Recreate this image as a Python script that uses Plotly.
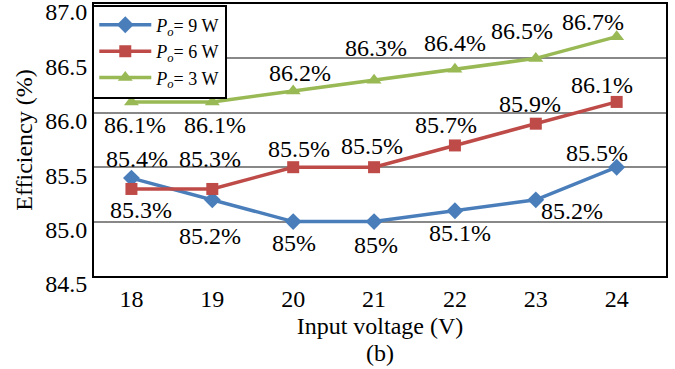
import plotly.graph_objects as go

voltage = [18, 19, 20, 21, 22, 23, 24]
eff_9w = [85.4, 85.2, 85.0, 85.0, 85.1, 85.2, 85.5]
eff_6w = [85.3, 85.3, 85.5, 85.5, 85.7, 85.9, 86.1]
eff_3w = [86.1, 86.1, 86.2, 86.3, 86.4, 86.5, 86.7]
series_names = ["<i>P<sub>o</sub></i>= 9 W", "<i>P<sub>o</sub></i>= 6 W", "<i>P<sub>o</sub></i>= 3 W"]
y_ticks = [84.5, 85.0, 85.5, 86.0, 86.5, 87.0]

# label offsets in pixels (xshift, yshift) for each point's data label
off_9w = [(6, 19), (-2, -36), (1, -21), (2, -23), (5, -22), (36, -11), (-20, 14)]
off_6w = [(10, -21), (-2, 30), (6, 18), (-2, 21), (-9, 20), (-6, 20), (-15, 17)]
off_3w = [(4, -23), (3, -23), (7, 18), (2, 32), (0, 26), (-14, 27), (-24, 15)]

FONT = "Liberation Serif"
FS = 24
colors = ["#4A7EBB", "#BE4B48", "#98B954"]
symbols = ["diamond", "square", "triangle-up"]
msizes = [13, 12, 13]

fig = go.Figure()
annotations = []
for vals, name, col, sym, ms, offs in zip(
    [eff_9w, eff_6w, eff_3w], series_names, colors, symbols, msizes,
    [off_9w, off_6w, off_3w]):
    fig.add_trace(go.Scatter(
        x=voltage, y=vals, name=name, mode="lines+markers",
        line=dict(color=col, width=3.5),
        marker=dict(symbol=sym, size=ms, color=col),
    ))
    for xv, yv, (dx, dy) in zip(voltage, vals, offs):
        annotations.append(dict(
            x=xv, y=yv, text=f"{yv:g}%", showarrow=False,
            xshift=dx, yshift=dy, xanchor="center", yanchor="middle",
            font=dict(family=FONT, size=FS, color="black"),
        ))

annotations.append(dict(
    x=0.5, y=0, xref="paper", yref="paper", text="(b)", showarrow=False,
    yshift=-77, xanchor="center", yanchor="middle",
    font=dict(family=FONT, size=FS, color="black"),
))

fig.update_layout(
    width=675, height=369,
    margin=dict(l=94, r=9, t=4, b=93, autoexpand=False),
    paper_bgcolor="white", plot_bgcolor="white",
    font=dict(family=FONT, size=18, color="black"),
    showlegend=True,
    legend=dict(
        x=-0.003, y=0.998, xanchor="left", yanchor="top",
        bgcolor="white", bordercolor="black", borderwidth=2,
        font=dict(family=FONT, size=18, color="black"),
        tracegroupgap=0, itemwidth=52,
        entrywidth=150, entrywidthmode="pixels",
    ),
    annotations=annotations,
)
fig.update_xaxes(
    range=[17.537, 24.61], tickvals=voltage, ticktext=[str(v) for v in voltage],
    showgrid=False, zeroline=False, showline=True, mirror=True,
    linecolor="black", linewidth=2, ticks="", automargin=False,
    title=dict(text="Input voltage (V)", standoff=6,
               font=dict(family=FONT, size=FS, color="black")),
    tickfont=dict(family=FONT, size=FS, color="black"),
)
fig.update_yaxes(
    range=[84.5, 87.0], tickvals=y_ticks, ticktext=[f"{v:.1f}" for v in y_ticks],
    showgrid=True, gridcolor="#888888", gridwidth=1.5, zeroline=False,
    showline=True, mirror=True, linecolor="black", linewidth=2, ticks="",
    ticklabeloverflow="allow", ticklabelshift=8, automargin=False,
    title=dict(text="Efficiency (%)", standoff=6,
               font=dict(family=FONT, size=FS, color="black")),
    tickfont=dict(family=FONT, size=FS, color="black"),
)
fig.write_html("out.html")
